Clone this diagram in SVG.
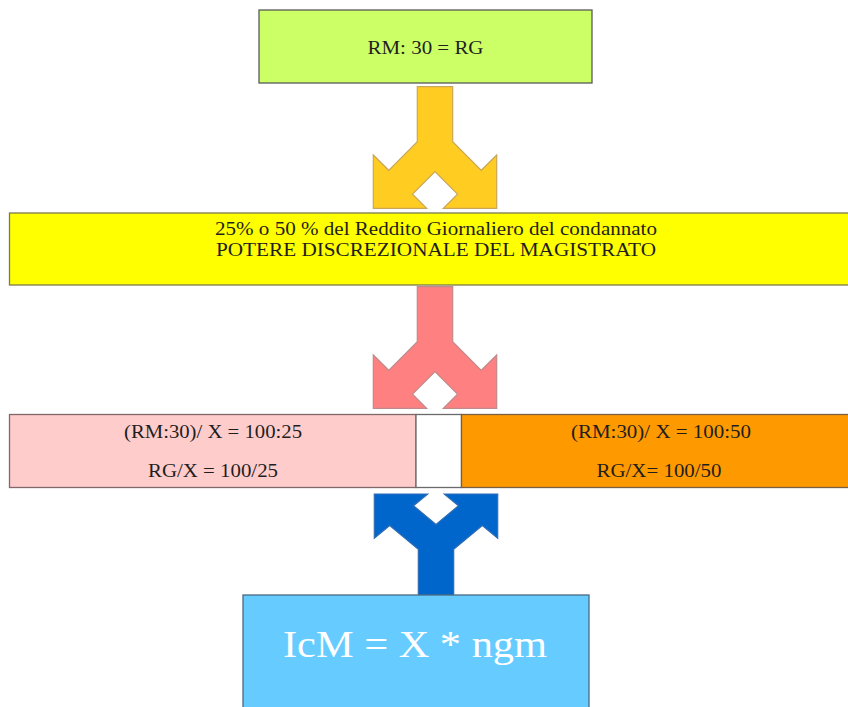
<svg xmlns="http://www.w3.org/2000/svg" width="848" height="707" viewBox="0 0 848 707">
<style>
.box{stroke-width:1.3}
.t{font-family:"Liberation Serif","Times New Roman",serif;font-size:18.5px;fill:#1e1e1e;text-anchor:middle}
.big{font-family:"Liberation Serif","Times New Roman",serif;font-size:38px;fill:#ffffff;text-anchor:middle}
.arr{stroke-width:1.2;stroke-linejoin:miter}
</style>
<defs>
<polygon id="down" points="417.3,86.7 452.7,86.7 452.7,141.7 481.3,170.3 496.7,155 496.7,208.3 443.3,208.3 457.5,194.2 435,171.7 412.5,194.2 426.7,208.3 373.3,208.3 373.3,155 388.7,170.3 417.3,141.7"/>
</defs>
<rect width="848" height="707" fill="#ffffff"/>
<g id="connectors">
<use href="#down" class="arr" fill="#FFCC22" stroke="#C9A65A"/>
<use href="#down" class="arr" fill="#FF8080" stroke="#C08A8A" transform="translate(0,200)"/>
<polygon class="arr" fill="#0066CC" stroke="#2F6DB5" points="418.3,595 453.7,595 453.7,549.3 482.3,525.6 497.7,538.3 497.7,494 444.3,494 458.5,505.7 436,524.4 413.5,505.7 427.7,494 374.3,494 374.3,538.3 389.7,525.6 418.3,549.3"/>
</g>
<g id="node-rm">
<rect class="box" x="259" y="10" width="333" height="73" fill="#CCFF66" stroke="#5a5a5a"/>
<text class="t" x="425.5" y="54" textLength="116" lengthAdjust="spacingAndGlyphs">RM: 30 = RG</text>
</g>
<g id="node-percent">
<rect class="box" x="9.5" y="213" width="852" height="72" fill="#FFFF00" stroke="#7a7a50"/>
<text class="t" x="436" y="235" textLength="442" lengthAdjust="spacingAndGlyphs">25% o 50 % del Reddito Giornaliero del condannato</text>
<text class="t" x="436" y="256" textLength="440" lengthAdjust="spacingAndGlyphs">POTERE DISCREZIONALE DEL MAGISTRATO</text>
</g>
<g id="node-25">
<rect class="box" x="9.5" y="414.5" width="406.5" height="73" fill="#FFCCCC" stroke="#806868"/>
<text class="t" x="213" y="438" textLength="178" lengthAdjust="spacingAndGlyphs">(RM:30)/ X = 100:25</text>
<text class="t" x="213" y="477" textLength="130" lengthAdjust="spacingAndGlyphs">RG/X = 100/25</text>
</g>
<g id="node-gap">
<rect class="box" x="416" y="414.5" width="45.5" height="73" fill="#ffffff" stroke="#6a6a6a"/>
</g>
<g id="node-50">
<rect class="box" x="461.5" y="414.5" width="400" height="73" fill="#FF9900" stroke="#7a6040"/>
<text class="t" x="661" y="438" textLength="180" lengthAdjust="spacingAndGlyphs">(RM:30)/ X = 100:50</text>
<text class="t" x="659" y="477" textLength="125" lengthAdjust="spacingAndGlyphs">RG/X= 100/50</text>
</g>
<g id="node-icm">
<rect class="box" x="243" y="595" width="346" height="130" fill="#66CCFF" stroke="#4a6a80"/>
<text class="big" x="415" y="657" textLength="264" lengthAdjust="spacingAndGlyphs">IcM = X * ngm</text>
</g>
</svg>
